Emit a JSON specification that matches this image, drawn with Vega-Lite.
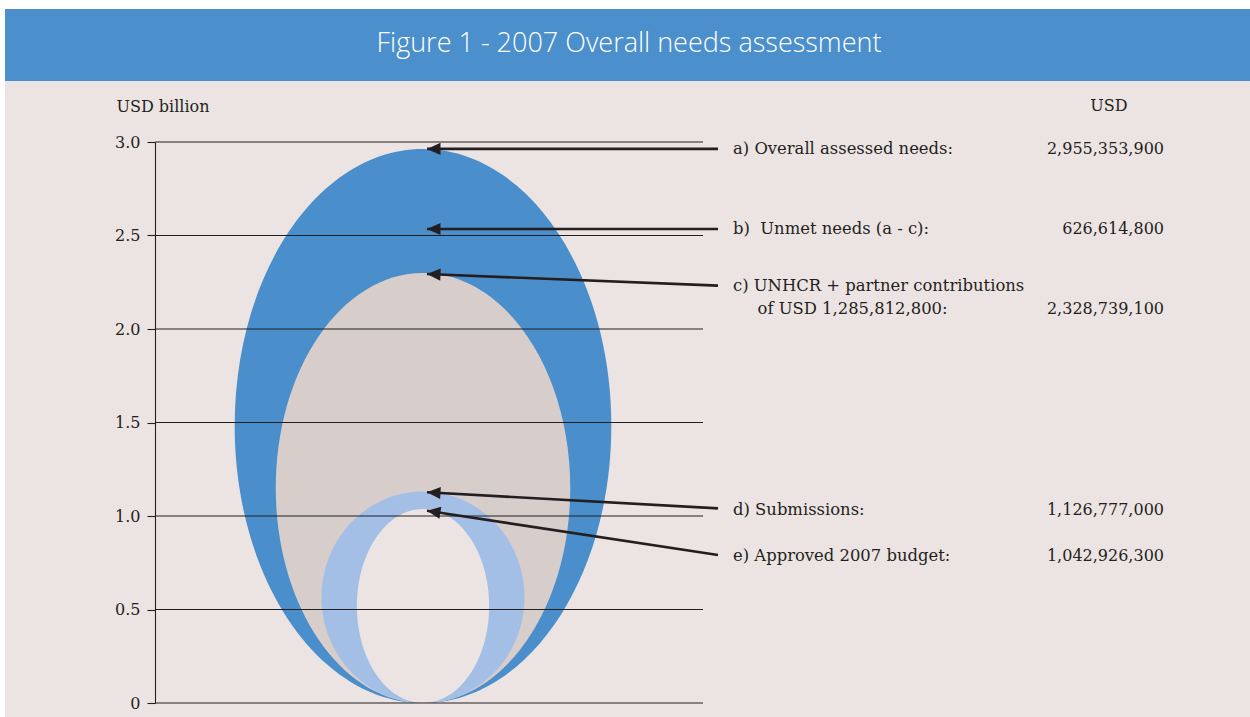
{
  "$schema": "https://vega.github.io/schema/vega-lite/v6.json",
  "width": 1095,
  "height": 561,
  "autosize": "none",
  "padding": {"left": 155, "top": 142, "right": 0, "bottom": 14},
  "background": "#ffffff",
  "config": {"view": {"stroke": null}, "font": "DejaVu Serif"},
  "resolve": {"axis": {"y": "independent", "x": "independent"}},
  "datasets": {
    "ellipses": [
      {"item": "a", "top": 2.962},
      {"item": "c", "top": 2.299},
      {"item": "d", "top": 1.131},
      {"item": "e", "top": 1.037}
    ],
    "grid": [{"v": 0}, {"v": 0.5}, {"v": 1}, {"v": 1.5}, {"v": 2}, {"v": 2.5}, {"v": 3}],
    "arrows": [
      {"item": "a", "tip": 2.963, "tail": 2.963},
      {"item": "b", "tip": 2.535, "tail": 2.535},
      {"item": "c", "tip": 2.294, "tail": 2.232},
      {"item": "d", "tip": 1.127, "tail": 1.041},
      {"item": "e", "tip": 1.028, "tail": 0.791}
    ],
    "notes": [
      {"line": 2.963, "label": "a) Overall assessed needs:", "usd": "2,955,353,900"},
      {"line": 2.535, "label": "b)\u00a0 Unmet needs (a - c):", "usd": "626,614,800"},
      {"line": 2.230, "label": "c) UNHCR + partner contributions", "usd": ""},
      {"line": 2.107, "label": "\u200b\u2002\u2002\u2002of USD 1,285,812,800:", "usd": "2,328,739,100"},
      {"line": 1.032, "label": "d) Submissions:", "usd": "1,126,777,000"},
      {"line": 0.786, "label": "e) Approved 2007 budget:", "usd": "1,042,926,300"}
    ],
    "one": [{"title": "Figure 1 - 2007 Overall needs assessment", "unit": "USD"}]
  },
  "layer": [
    {
      "data": {"name": "one"},
      "mark": {"type": "rect", "fill": "#ece4e2"},
      "encoding": {
        "x": {"datum": -150, "type": "quantitative", "scale": {"domain": [0, 1095], "nice": false, "zero": false}, "axis": null},
        "x2": {"datum": 1095},
        "y": {"datum": -0.1, "type": "quantitative", "scale": {"domain": [0, 3], "nice": false, "zero": false}, "axis": null},
        "y2": {"datum": 3.326}
      }
    },
    {
      "data": {"name": "one"},
      "mark": {"type": "rect", "fill": "#4b8fcc"},
      "encoding": {
        "x": {"datum": -150, "type": "quantitative", "scale": {"domain": [0, 1095], "nice": false, "zero": false}, "axis": null},
        "x2": {"datum": 1095},
        "y": {"datum": 3.326, "type": "quantitative", "scale": {"domain": [0, 3], "nice": false, "zero": false}, "axis": null},
        "y2": {"datum": 3.711}
      }
    },
    {
      "data": {"name": "one"},
      "mark": {"type": "text", "font": "Open Sans", "fontSize": 27, "fontWeight": 300, "color": "#ffffff", "align": "center", "baseline": "middle"},
      "encoding": {
        "x": {"datum": 474, "type": "quantitative", "scale": {"domain": [0, 1095], "nice": false, "zero": false}, "axis": null},
        "y": {"datum": 3.524, "type": "quantitative", "scale": {"domain": [0, 3], "nice": false, "zero": false}, "axis": null},
        "text": {"field": "title"}
      }
    },
    {
      "data": {"name": "ellipses"},
      "mark": {"type": "point", "filled": true, "opacity": 1, "strokeWidth": 0},
      "encoding": {
        "x": {"datum": 268, "type": "quantitative", "scale": {"domain": [0, 1095], "nice": false, "zero": false}, "axis": null},
        "y": {"field": "top", "type": "quantitative", "scale": {"domain": [0, 3], "nice": false, "zero": false}, "axis": null},
        "size": {"field": "top", "type": "quantitative", "scale": {"type": "pow", "exponent": 2, "domain": [0, 3], "range": [0, 314721], "nice": false, "zero": true}, "legend": null},
        "shape": {
          "field": "item", "type": "nominal", "legend": null,
          "scale": {
            "domain": ["a", "c", "d", "e"],
            "range": [
              "M0,0C0.3756,0 0.68,0.4477 0.68,1C0.68,1.5523 0.3756,2 0,2C-0.3756,2 -0.68,1.5523 -0.68,1C-0.68,0.4477 -0.3756,0 0,0Z",
              "M0,0C0.3783,0 0.685,0.4477 0.685,1C0.685,1.5523 0.3783,2 0,2C-0.3783,2 -0.685,1.5523 -0.685,1C-0.685,0.4477 -0.3783,0 0,0Z",
              "M0,0C0.5302,0 0.96,0.4477 0.96,1C0.96,1.5523 0.5302,2 0,2C-0.5302,2 -0.96,1.5523 -0.96,1C-0.96,0.4477 -0.5302,0 0,0Z",
              "M0,0C0.3767,0 0.682,0.4477 0.682,1C0.682,1.5523 0.3767,2 0,2C-0.3767,2 -0.682,1.5523 -0.682,1C-0.682,0.4477 -0.3767,0 0,0Z"
            ]
          }
        },
        "fill": {
          "field": "item", "type": "nominal", "legend": null,
          "scale": {"domain": ["a", "c", "d", "e"], "range": ["#4a8fcc", "#d7cdca", "#a3bfe6", "#ece4e2"]}
        }
      }
    },
    {
      "data": {"name": "grid"},
      "mark": {"type": "rule", "color": "#231f20", "strokeWidth": 1.1},
      "encoding": {
        "x": {"datum": 0, "type": "quantitative", "scale": {"domain": [0, 1095], "nice": false, "zero": false}, "axis": null},
        "x2": {"datum": 548},
        "y": {
          "field": "v", "type": "quantitative",
          "scale": {"domain": [0, 3], "nice": false, "zero": false},
          "axis": {
            "title": "USD billion", "titleAngle": 0, "titleAlign": "left", "titleBaseline": "middle",
            "titleX": -39, "titleY": -36, "titleFont": "DejaVu Serif", "titleFontSize": 16, "titleFontWeight": "normal", "titleColor": "#231f20",
            "values": [0, 0.5, 1, 1.5, 2, 2.5, 3],
            "labelExpr": "datum.value === 0 ? '0' : format(datum.value, '.1f')",
            "labelFont": "DejaVu Serif", "labelFontSize": 16, "labelColor": "#231f20", "labelPadding": 7,
            "tickSize": 8, "tickColor": "#231f20", "tickWidth": 1.1,
            "domainColor": "#231f20", "domainWidth": 1.1, "grid": false, "zindex": 1
          }
        }
      }
    },
    {
      "data": {"name": "arrows"},
      "mark": {"type": "rule", "color": "#231f20", "strokeWidth": 2.6},
      "encoding": {
        "x": {"datum": 272, "type": "quantitative", "scale": {"domain": [0, 1095], "nice": false, "zero": false}, "axis": null},
        "x2": {"datum": 563},
        "y": {"field": "tip", "type": "quantitative", "scale": {"domain": [0, 3], "nice": false, "zero": false}, "axis": null},
        "y2": {"field": "tail"}
      }
    },
    {
      "data": {"name": "arrows"},
      "mark": {
        "type": "point", "filled": true, "opacity": 1, "strokeWidth": 0, "color": "#231f20",
        "shape": "M0,0L1,-0.45L1,0.45Z", "size": 729,
        "angle": {"expr": "atan2(scale('y', datum.tip) - scale('y', datum.tail), scale('x', 272) - scale('x', 563)) * 180 / PI - 180"}
      },
      "encoding": {
        "x": {"datum": 272, "type": "quantitative", "scale": {"domain": [0, 1095], "nice": false, "zero": false}, "axis": null},
        "y": {"field": "tip", "type": "quantitative", "scale": {"domain": [0, 3], "nice": false, "zero": false}, "axis": null}
      }
    },
    {
      "data": {"name": "notes"},
      "mark": {"type": "text", "font": "DejaVu Serif", "fontSize": 16.4, "color": "#231f20", "align": "left", "baseline": "middle"},
      "encoding": {
        "x": {"datum": 578, "type": "quantitative", "scale": {"domain": [0, 1095], "nice": false, "zero": false}, "axis": null},
        "y": {"field": "line", "type": "quantitative", "scale": {"domain": [0, 3], "nice": false, "zero": false}, "axis": null},
        "text": {"field": "label"}
      }
    },
    {
      "data": {"name": "notes"},
      "mark": {"type": "text", "font": "DejaVu Serif", "fontSize": 16, "color": "#231f20", "align": "right", "baseline": "middle"},
      "encoding": {
        "x": {"datum": 1009, "type": "quantitative", "scale": {"domain": [0, 1095], "nice": false, "zero": false}, "axis": null},
        "y": {"field": "line", "type": "quantitative", "scale": {"domain": [0, 3], "nice": false, "zero": false}, "axis": null},
        "text": {"field": "usd"}
      }
    },
    {
      "data": {"name": "one"},
      "mark": {"type": "text", "font": "DejaVu Serif", "fontSize": 16, "color": "#231f20", "align": "center", "baseline": "middle"},
      "encoding": {
        "x": {"datum": 954, "type": "quantitative", "scale": {"domain": [0, 1095], "nice": false, "zero": false}, "axis": null},
        "y": {"datum": 3.192, "type": "quantitative", "scale": {"domain": [0, 3], "nice": false, "zero": false}, "axis": null},
        "text": {"field": "unit"}
      }
    }
  ]
}
